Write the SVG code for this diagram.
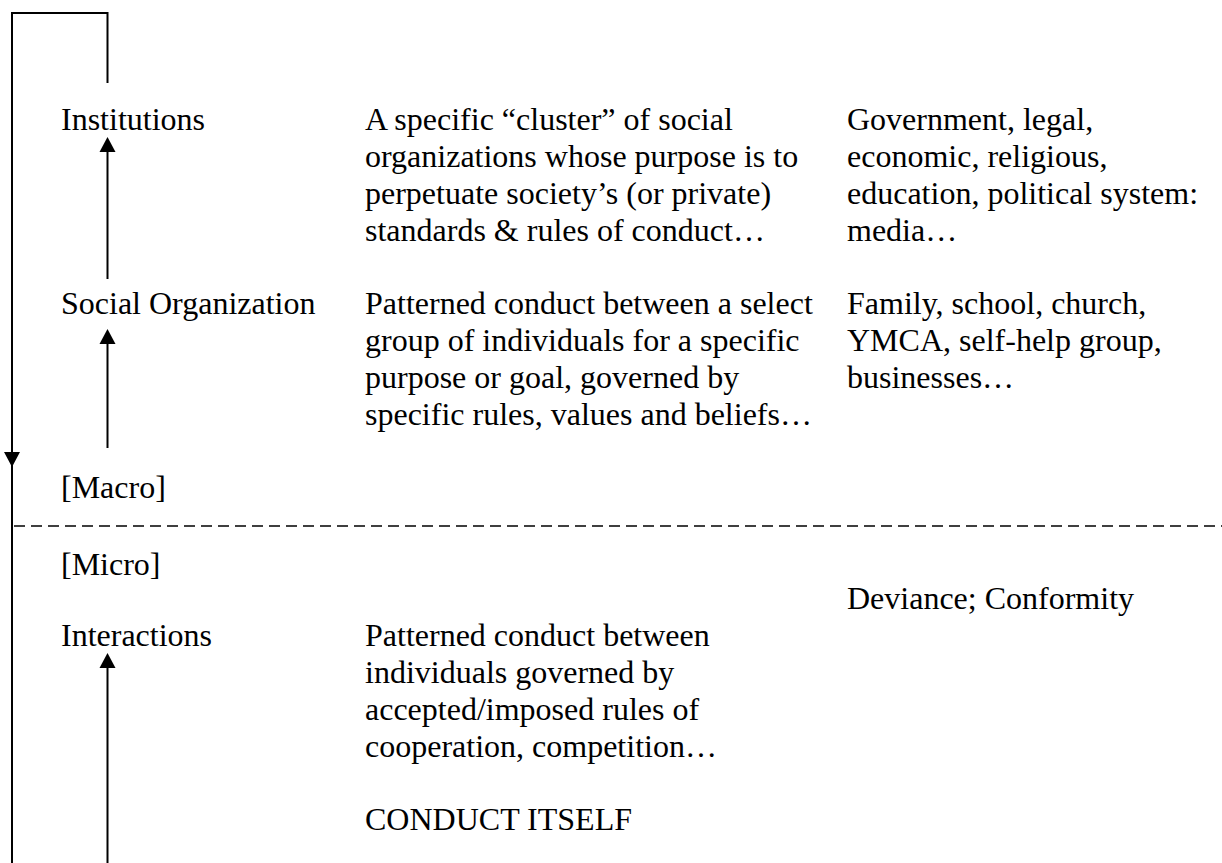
<svg xmlns="http://www.w3.org/2000/svg" width="1222" height="863" viewBox="0 0 1222 863">
<style>
text { font-family: "Liberation Serif", "Times New Roman", serif; font-size: 32px; fill: #000; }
.ln { stroke: #000; stroke-width: 2; fill: none; }
.dash { stroke: #000; stroke-width: 1.5; stroke-dasharray: 11 6; fill: none; }
</style>
<defs>
<marker id="ah" viewBox="0 0 16 15" refX="8" refY="0" markerWidth="16" markerHeight="15" markerUnits="userSpaceOnUse" orient="auto-start-reverse">
<path d="M8,0 L16,15 L0,15 Z" fill="#000"/>
</marker>
<marker id="ahd" viewBox="0 0 16 15" refX="8" refY="15" markerWidth="16" markerHeight="15" markerUnits="userSpaceOnUse" orient="0">
<path d="M0,0 L16,0 L8,15 Z" fill="#000"/>
</marker>
</defs>
<rect width="1222" height="863" fill="#fff"/>
<g id="connectors">
<path class="ln" d="M107.5,83 V13 H12 V863"/>
<path d="M4,452 L20,452 L12,467 Z" fill="#000"/>
<line class="ln" x1="107.5" y1="279" x2="107.5" y2="150"/>
<path d="M107.5,137 L115.5,152 L99.5,152 Z" fill="#000"/>
<line class="ln" x1="107.5" y1="448" x2="107.5" y2="342"/>
<path d="M107.5,329 L115.5,344 L99.5,344 Z" fill="#000"/>
<line class="ln" x1="107.5" y1="863" x2="107.5" y2="666"/>
<path d="M107.5,653 L115.5,668 L99.5,668 Z" fill="#000"/>
<line class="dash" x1="14" y1="526" x2="1222" y2="526"/>
</g>
<g id="institutions">
<text x="61" y="130">Institutions</text>
<text x="365" y="130">A specific “cluster” of social</text>
<text x="365" y="167">organizations whose purpose is to</text>
<text x="365" y="204">perpetuate society’s (or private)</text>
<text x="365" y="241">standards &amp; rules of conduct…</text>
<text x="847" y="130">Government, legal,</text>
<text x="847" y="167">economic, religious,</text>
<text x="847" y="204">education, political system:</text>
<text x="847" y="241">media…</text>
</g>
<g id="social-organization">
<text x="61" y="314">Social Organization</text>
<text x="365" y="314">Patterned conduct between a select</text>
<text x="365" y="351">group of individuals for a specific</text>
<text x="365" y="388">purpose or goal, governed by</text>
<text x="365" y="425">specific rules, values and beliefs…</text>
<text x="847" y="314">Family, school, church,</text>
<text x="847" y="351">YMCA, self-help group,</text>
<text x="847" y="388">businesses…</text>
</g>
<g id="macro">
<text x="61" y="498">[Macro]</text>
</g>
<g id="micro">
<text x="61" y="575">[Micro]</text>
</g>
<g id="deviance">
<text x="847" y="609">Deviance; Conformity</text>
</g>
<g id="interactions">
<text x="61" y="646">Interactions</text>
<text x="365" y="646">Patterned conduct between</text>
<text x="365" y="683">individuals governed by</text>
<text x="365" y="720">accepted/imposed rules of</text>
<text x="365" y="757">cooperation, competition…</text>
</g>
<g id="conduct">
<text x="365" y="830">CONDUCT ITSELF</text>
</g>
</svg>
